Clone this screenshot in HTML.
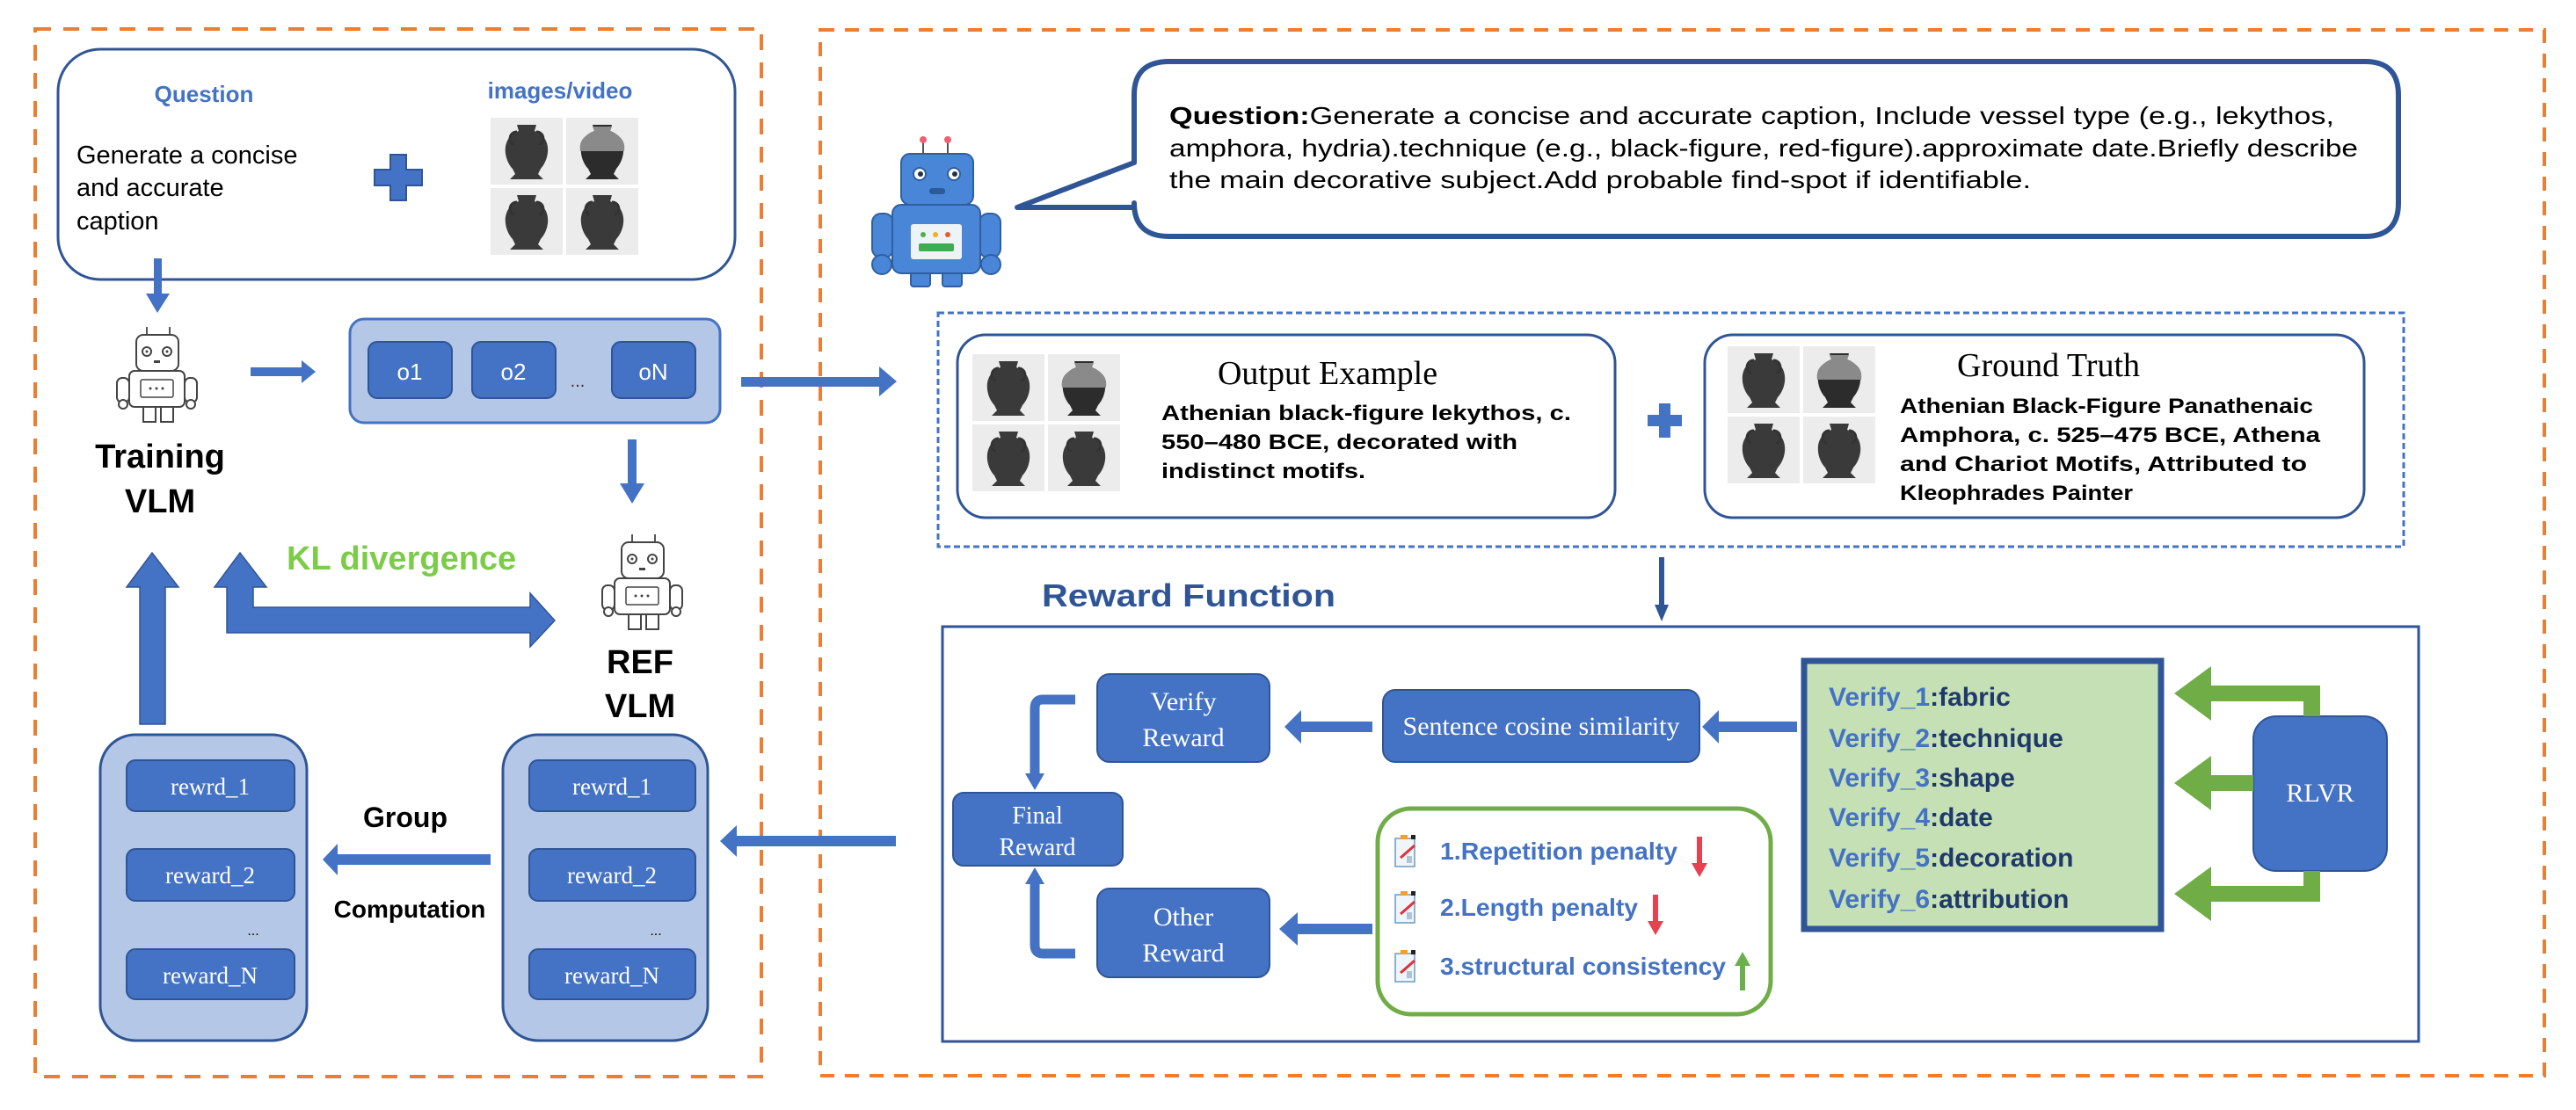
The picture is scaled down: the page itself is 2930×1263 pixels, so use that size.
<!DOCTYPE html>
<html><head><meta charset="utf-8"><style>
html,body{margin:0;padding:0;background:#fff;}
svg{display:block;}
text{font-family:"Liberation Sans",sans-serif;}
.serif{font-family:"Liberation Serif",serif;}
</style></head><body>
<svg width="2930" height="1263" viewBox="0 0 2930 1263" xmlns="http://www.w3.org/2000/svg">
<defs>
<g id="robot">
 <line x1="47" y1="12" x2="47" y2="21" stroke="#555" stroke-width="2"/>
 <line x1="73" y1="12" x2="73" y2="21" stroke="#555" stroke-width="2"/>
 <rect x="35" y="21" width="48" height="41" rx="8" fill="#fff" stroke="#444" stroke-width="2"/>
 <circle cx="47" cy="40" r="5" fill="none" stroke="#444" stroke-width="2"/><circle cx="47" cy="40" r="1.5" fill="#444"/>
 <circle cx="70" cy="40" r="5" fill="none" stroke="#444" stroke-width="2"/><circle cx="70" cy="40" r="1.5" fill="#444"/>
 <rect x="55" y="50" width="7" height="3" fill="#444"/>
 <rect x="13" y="70" width="14" height="28" rx="6" fill="#fff" stroke="#444" stroke-width="2"/>
 <rect x="90" y="70" width="14" height="28" rx="6" fill="#fff" stroke="#444" stroke-width="2"/>
 <circle cx="20" cy="100" r="5" fill="#fff" stroke="#444" stroke-width="2"/>
 <circle cx="97" cy="100" r="5" fill="#fff" stroke="#444" stroke-width="2"/>
 <rect x="43" y="103" width="14" height="17" fill="#fff" stroke="#444" stroke-width="2"/>
 <rect x="63" y="103" width="14" height="17" fill="#fff" stroke="#444" stroke-width="2"/>
 <rect x="27" y="62" width="63" height="41" rx="6" fill="#fff" stroke="#444" stroke-width="2"/>
 <rect x="40" y="72" width="37" height="20" rx="2" fill="#fff" stroke="#444" stroke-width="1.5"/>
 <circle cx="51" cy="82" r="1.5" fill="#444"/><circle cx="58" cy="82" r="1.5" fill="#444"/><circle cx="65" cy="82" r="1.5" fill="#444"/>
</g>
<g id="vase">
 <rect x="0" y="0" width="82" height="76" fill="#ececec"/>
 <path d="M30,8 L52,8 L50,15 C70,22 68,46 57,58 L54,64 L60,70 L22,70 L28,64 L25,58 C14,46 12,22 32,15 Z" fill="#3a3a3a"/>
 <path d="M30,16 C20,16 20,30 27,30 M52,16 C62,16 62,30 55,30" fill="none" stroke="#333" stroke-width="3"/>
</g>
<g id="vase2">
 <rect x="0" y="0" width="82" height="76" fill="#ececec"/>
 <path d="M30,8 L52,8 L50,15 C70,22 68,46 57,58 L54,64 L60,70 L22,70 L28,64 L25,58 C14,46 12,22 32,15 Z" fill="#2c2c2c"/>
 <path d="M30,10 L52,10 L50,15 C66,22 67,30 66,38 L16,38 C15,30 16,22 32,15 Z" fill="#8a8a8a"/>
</g>
<g id="vases">
 <use href="#vase" x="0" y="0"/><use href="#vase2" x="86" y="0"/>
 <use href="#vase" x="0" y="80"/><use href="#vase" x="86" y="80"/>
</g>
<g id="note">
 <rect x="0" y="6" width="22" height="32" fill="#eef5fb" stroke="#6b9ac4" stroke-width="1.5"/>
 <rect x="6" y="2" width="8" height="5" fill="#f0a030"/>
 <rect x="18" y="2" width="5" height="5" fill="#222"/>
 <rect x="13" y="26" width="6" height="8" fill="#b0c4d8"/>
 <line x1="6" y1="28" x2="22" y2="14" stroke="#e0303a" stroke-width="3"/>
</g>
</defs>

<rect x="40" y="33" width="826" height="1192" fill="none" stroke="#ed7d31" stroke-width="4" stroke-dasharray="18,14"/>
<rect x="933" y="34" width="1961" height="1190" fill="none" stroke="#ed7d31" stroke-width="4" stroke-dasharray="16,12"/>

<rect x="66" y="56" width="770" height="262" rx="48" fill="#fff" stroke="#2f5597" stroke-width="3"/>
<text x="232" y="116" text-anchor="middle" font-size="26" font-weight="bold" fill="#4472c4">Question</text>
<text x="637" y="112" text-anchor="middle" font-size="26" font-weight="bold" fill="#4472c4">images/video</text>
<text x="87" y="186" font-size="29" fill="#000">Generate a concise</text>
<text x="87" y="223" font-size="29" fill="#000">and accurate</text>
<text x="87" y="261" font-size="29" fill="#000">caption</text>
<path d="M444,176 h18 v17 h18 v18 h-18 v17 h-18 v-17 h-18 v-18 h18 z" fill="#4472c4" stroke="#2f5597" stroke-width="2"/>
<g transform="translate(558,134)"><use href="#vases"/></g>

<rect x="175" y="294" width="9" height="42" fill="#4472c4"/>
<polygon points="166,334 193,334 179,356" fill="#4472c4"/>

<g transform="translate(120,360)"><use href="#robot"/></g>
<text x="182" y="532" text-anchor="middle" font-size="38" font-weight="bold">Training</text>
<text x="182" y="583" text-anchor="middle" font-size="38" font-weight="bold">VLM</text>

<rect x="285" y="418" width="60" height="10" fill="#4472c4"/>
<polygon points="343,410 359,423 343,436" fill="#4472c4"/>

<rect x="398" y="363" width="421" height="118" rx="16" fill="#b4c7e7" stroke="#4472c4" stroke-width="3"/>
<rect x="419" y="389" width="95" height="64" rx="10" fill="#4472c4" stroke="#2f5597" stroke-width="2"/>
<rect x="537" y="389" width="95" height="64" rx="10" fill="#4472c4" stroke="#2f5597" stroke-width="2"/>
<rect x="696" y="389" width="95" height="64" rx="10" fill="#4472c4" stroke="#2f5597" stroke-width="2"/>
<text x="466" y="432" text-anchor="middle" font-size="26" fill="#fff">o1</text>
<text x="584" y="432" text-anchor="middle" font-size="26" fill="#fff">o2</text>
<text x="743" y="432" text-anchor="middle" font-size="26" fill="#fff">oN</text>
<text x="657" y="440" text-anchor="middle" font-size="20" fill="#333">...</text>

<rect x="843" y="429" width="160" height="11" fill="#4472c4"/>
<polygon points="1000,417 1020,434 1000,451" fill="#4472c4"/>

<rect x="714" y="500" width="10" height="52" fill="#4472c4"/>
<polygon points="705,550 733,550 719,573" fill="#4472c4"/>

<g transform="translate(672,596)"><use href="#robot"/></g>
<text x="728" y="766" text-anchor="middle" font-size="38" font-weight="bold">REF</text>
<text x="728" y="816" text-anchor="middle" font-size="38" font-weight="bold">VLM</text>

<text x="326" y="648" font-size="38" font-weight="bold" fill="#7ccc4a">KL divergence</text>

<polygon points="159,824 188,824 188,668 203,668 173,629 144,668 159,668" fill="#4472c4" stroke="#2f5597" stroke-width="1.5"/>
<polygon points="258,720 258,668 244,668 273,629 303,668 288,668 288,691 603,691 603,675 631,706 603,736 603,720" fill="#4472c4" stroke="#2f5597" stroke-width="1.5"/>

<rect x="114" y="836" width="235" height="348" rx="40" fill="#b4c7e7" stroke="#2f5597" stroke-width="3"/>
<rect x="144" y="865" width="191" height="58" rx="10" fill="#4472c4" stroke="#2f5597" stroke-width="2"/>
<rect x="144" y="966" width="191" height="59" rx="10" fill="#4472c4" stroke="#2f5597" stroke-width="2"/>
<rect x="144" y="1080" width="191" height="57" rx="10" fill="#4472c4" stroke="#2f5597" stroke-width="2"/>
<text x="239" y="904" text-anchor="middle" class="serif" font-size="27" fill="#fff">rewrd_1</text>
<text x="239" y="1005" text-anchor="middle" class="serif" font-size="27" fill="#fff">reward_2</text>
<text x="239" y="1119" text-anchor="middle" class="serif" font-size="27" fill="#fff">reward_N</text>
<text x="288" y="1064" text-anchor="middle" font-size="16">...</text>

<rect x="572" y="836" width="233" height="348" rx="40" fill="#b4c7e7" stroke="#2f5597" stroke-width="3"/>
<rect x="602" y="865" width="189" height="58" rx="10" fill="#4472c4" stroke="#2f5597" stroke-width="2"/>
<rect x="602" y="966" width="189" height="59" rx="10" fill="#4472c4" stroke="#2f5597" stroke-width="2"/>
<rect x="602" y="1080" width="189" height="57" rx="10" fill="#4472c4" stroke="#2f5597" stroke-width="2"/>
<text x="696" y="904" text-anchor="middle" class="serif" font-size="27" fill="#fff">rewrd_1</text>
<text x="696" y="1005" text-anchor="middle" class="serif" font-size="27" fill="#fff">reward_2</text>
<text x="696" y="1119" text-anchor="middle" class="serif" font-size="27" fill="#fff">reward_N</text>
<text x="746" y="1064" text-anchor="middle" font-size="16">...</text>

<text x="461" y="941" text-anchor="middle" font-size="32" font-weight="bold">Group</text>
<text x="466" y="1044" text-anchor="middle" font-size="28" font-weight="bold">Computation</text>
<rect x="382" y="972" width="176" height="12" fill="#4472c4"/>
<polygon points="384,960 367,978 384,996" fill="#4472c4"/>

<rect x="836" y="951" width="183" height="12" fill="#4472c4"/>
<polygon points="838,939 819,957 838,975" fill="#4472c4"/>

<g>
 <line x1="1050" y1="160" x2="1050" y2="175" stroke="#555" stroke-width="2"/>
 <line x1="1078" y1="160" x2="1078" y2="175" stroke="#555" stroke-width="2"/>
 <circle cx="1050" cy="159" r="4" fill="#f06070"/><circle cx="1078" cy="159" r="4" fill="#f06070"/>
 <rect x="1025" y="175" width="82" height="58" rx="10" fill="#4a86d8" stroke="#2f5f9f" stroke-width="2"/>
 <circle cx="1046" cy="198" r="7" fill="#fff" stroke="#2f5f9f" stroke-width="2"/><circle cx="1047" cy="198" r="3" fill="#234"/>
 <circle cx="1085" cy="198" r="7" fill="#fff" stroke="#2f5f9f" stroke-width="2"/><circle cx="1086" cy="198" r="3" fill="#234"/>
 <rect x="1057" y="214" width="18" height="7" rx="3" fill="#2a5a9a"/>
 <rect x="992" y="243" width="24" height="50" rx="10" fill="#4a86d8" stroke="#2f5f9f" stroke-width="2"/>
 <rect x="1114" y="243" width="24" height="50" rx="10" fill="#4a86d8" stroke="#2f5f9f" stroke-width="2"/>
 <circle cx="1003" cy="301" r="11" fill="#4a86d8" stroke="#2f5f9f" stroke-width="2"/>
 <circle cx="1127" cy="301" r="11" fill="#4a86d8" stroke="#2f5f9f" stroke-width="2"/>
 <rect x="1036" y="308" width="22" height="18" rx="3" fill="#4a86d8" stroke="#2f5f9f" stroke-width="2"/>
 <rect x="1072" y="308" width="22" height="18" rx="3" fill="#4a86d8" stroke="#2f5f9f" stroke-width="2"/>
 <rect x="1015" y="233" width="100" height="78" rx="10" fill="#4a86d8" stroke="#2f5f9f" stroke-width="2"/>
 <rect x="1036" y="255" width="58" height="40" rx="3" fill="#eef3f8"/>
 <circle cx="1050" cy="267" r="3" fill="#4caf50"/><circle cx="1064" cy="267" r="3" fill="#f0b020"/><circle cx="1078" cy="267" r="3" fill="#e06030"/>
 <rect x="1045" y="277" width="40" height="9" rx="2" fill="#3cae50"/>
</g>

<path d="M1330,70 H2690 Q2728,70 2728,108 V231 Q2728,269 2690,269 H1330 Q1290,269 1290,231 V236 L1157,236 L1290,185 V108 Q1290,70 1330,70 Z" fill="#fff" stroke="#2f5597" stroke-width="6" stroke-linejoin="round"/>
<text x="1330" y="141" font-size="28" textLength="1325" lengthAdjust="spacingAndGlyphs"><tspan font-weight="bold">Question:</tspan>Generate a concise and accurate caption,  Include vessel type (e.g., lekythos,</text>
<text x="1330" y="178" font-size="28" textLength="1352" lengthAdjust="spacingAndGlyphs">amphora, hydria).technique (e.g., black-figure, red-figure).approximate date.Briefly describe</text>
<text x="1330" y="214" font-size="28" textLength="980" lengthAdjust="spacingAndGlyphs">the main decorative subject.Add probable find-spot if identifiable.</text>

<rect x="1067" y="356" width="1667" height="266" fill="none" stroke="#4472c4" stroke-width="3" stroke-dasharray="7,4"/>
<rect x="1089" y="381" width="748" height="208" rx="32" fill="#fff" stroke="#2f5597" stroke-width="3"/>
<g transform="translate(1106,403)"><use href="#vases"/></g>
<text x="1510" y="437" text-anchor="middle" class="serif" font-size="38">Output Example</text>
<text x="1321" y="478" font-size="24" font-weight="bold" textLength="466" lengthAdjust="spacingAndGlyphs">Athenian black-figure lekythos, c.</text>
<text x="1321" y="511" font-size="24" font-weight="bold" textLength="405" lengthAdjust="spacingAndGlyphs">550–480 BCE, decorated with</text>
<text x="1321" y="544" font-size="24" font-weight="bold" textLength="232" lengthAdjust="spacingAndGlyphs">indistinct motifs.</text>

<path d="M1887,459 h13 v13 h13 v13 h-13 v13 h-13 v-13 h-13 v-13 h13 z" fill="#4472c4"/>

<rect x="1939" y="381" width="750" height="208" rx="32" fill="#fff" stroke="#2f5597" stroke-width="3"/>
<g transform="translate(1965,394)"><use href="#vases"/></g>
<text x="2330" y="428" text-anchor="middle" class="serif" font-size="38">Ground Truth</text>
<text x="2161" y="470" font-size="24" font-weight="bold" textLength="470" lengthAdjust="spacingAndGlyphs">Athenian Black-Figure Panathenaic</text>
<text x="2161" y="503" font-size="24" font-weight="bold" textLength="478" lengthAdjust="spacingAndGlyphs">Amphora, c. 525–475 BCE, Athena</text>
<text x="2161" y="536" font-size="24" font-weight="bold" textLength="463" lengthAdjust="spacingAndGlyphs">and Chariot Motifs, Attributed to</text>
<text x="2161" y="569" font-size="24" font-weight="bold" textLength="265" lengthAdjust="spacingAndGlyphs">Kleophrades Painter</text>

<rect x="1887" y="634" width="6" height="56" fill="#2f5597"/>
<polygon points="1882,688 1898,688 1890,707" fill="#2f5597"/>

<text x="1185" y="690" font-size="36" font-weight="bold" fill="#2f5597" textLength="334" lengthAdjust="spacingAndGlyphs">Reward Function</text>

<rect x="1072" y="713" width="1679" height="472" fill="#fff" stroke="#2f5597" stroke-width="3"/>

<rect x="1248" y="767" width="196" height="100" rx="14" fill="#4472c4" stroke="#2f5597" stroke-width="2"/>
<text x="1346" y="808" text-anchor="middle" class="serif" font-size="30" fill="#fff">Verify</text>
<text x="1346" y="849" text-anchor="middle" class="serif" font-size="30" fill="#fff">Reward</text>
<rect x="1573" y="785" width="360" height="82" rx="14" fill="#4472c4" stroke="#2f5597" stroke-width="2"/>
<text x="1753" y="836" text-anchor="middle" class="serif" font-size="30" fill="#fff">Sentence cosine similarity</text>
<rect x="1084" y="902" width="193" height="83" rx="12" fill="#4472c4" stroke="#2f5597" stroke-width="2"/>
<text x="1180" y="937" text-anchor="middle" class="serif" font-size="28" fill="#fff">Final</text>
<text x="1180" y="973" text-anchor="middle" class="serif" font-size="28" fill="#fff">Reward</text>
<rect x="1248" y="1011" width="196" height="101" rx="14" fill="#4472c4" stroke="#2f5597" stroke-width="2"/>
<text x="1346" y="1053" text-anchor="middle" class="serif" font-size="30" fill="#fff">Other</text>
<text x="1346" y="1094" text-anchor="middle" class="serif" font-size="30" fill="#fff">Reward</text>

<rect x="1478" y="821" width="83" height="12" fill="#4472c4"/>
<polygon points="1480,808 1461,827 1480,846" fill="#4472c4"/>
<rect x="1953" y="821" width="91" height="12" fill="#4472c4"/>
<polygon points="1955,808 1936,827 1955,846" fill="#4472c4"/>
<rect x="1474" y="1051" width="87" height="12" fill="#4472c4"/>
<polygon points="1476,1038 1455,1057 1476,1076" fill="#4472c4"/>
<path d="M1223,796 H1186 Q1177,796 1177,806 V882" fill="none" stroke="#4472c4" stroke-width="11"/>
<polygon points="1166,880 1188,880 1177,899" fill="#4472c4"/>
<path d="M1223,1085 H1186 Q1177,1085 1177,1075 V1004" fill="none" stroke="#4472c4" stroke-width="11"/>
<polygon points="1166,1006 1188,1006 1177,987" fill="#4472c4"/>

<rect x="1567" y="920" width="447" height="234" rx="38" fill="#fff" stroke="#70ad47" stroke-width="5"/>
<g transform="translate(1587,948)"><use href="#note"/></g>
<g transform="translate(1587,1012)"><use href="#note"/></g>
<g transform="translate(1587,1079)"><use href="#note"/></g>
<text x="1638" y="978" font-size="28" font-weight="bold" fill="#4472c4" textLength="270" lengthAdjust="spacingAndGlyphs">1.Repetition penalty</text>
<text x="1638" y="1042" font-size="28" font-weight="bold" fill="#4472c4" textLength="225" lengthAdjust="spacingAndGlyphs">2.Length penalty</text>
<text x="1638" y="1109" font-size="28" font-weight="bold" fill="#4472c4" textLength="325" lengthAdjust="spacingAndGlyphs">3.structural consistency</text>
<rect x="1930" y="952" width="6" height="32" fill="#e8404f"/><polygon points="1924,982 1942,982 1933,998" fill="#e8404f"/>
<rect x="1880" y="1018" width="6" height="32" fill="#e8404f"/><polygon points="1874,1048 1892,1048 1883,1064" fill="#e8404f"/>
<rect x="1979" y="1097" width="6" height="30" fill="#6ab04c"/><polygon points="1973,1099 1991,1099 1982,1083" fill="#6ab04c"/>

<rect x="2052" y="752" width="406" height="305" fill="#c5e0b4" stroke="#2f5597" stroke-width="7"/>
<g font-size="30" font-weight="bold">
<text x="2080" y="803"><tspan fill="#4472c4">Verify_1</tspan><tspan fill="#1f3a6a">:fabric</tspan></text>
<text x="2080" y="850"><tspan fill="#4472c4">Verify_2</tspan><tspan fill="#1f3a6a">:technique</tspan></text>
<text x="2080" y="895"><tspan fill="#4472c4">Verify_3</tspan><tspan fill="#1f3a6a">:shape</tspan></text>
<text x="2080" y="940"><tspan fill="#4472c4">Verify_4</tspan><tspan fill="#1f3a6a">:date</tspan></text>
<text x="2080" y="986"><tspan fill="#4472c4">Verify_5</tspan><tspan fill="#1f3a6a">:decoration</tspan></text>
<text x="2080" y="1033"><tspan fill="#4472c4">Verify_6</tspan><tspan fill="#1f3a6a">:attribution</tspan></text>
</g>

<rect x="2563" y="815" width="152" height="176" rx="26" fill="#4472c4" stroke="#2f5597" stroke-width="2"/>
<text x="2639" y="912" text-anchor="middle" class="serif" font-size="30" fill="#fff">RLVR</text>

<polygon points="2639,815 2620,815 2620,798 2515,798 2515,820 2473,789 2515,758 2515,780 2639,780" fill="#70ad47"/>
<polygon points="2563,882 2515,882 2515,860 2473,891 2515,922 2515,900 2563,900" fill="#70ad47"/>
<polygon points="2639,991 2620,991 2620,1008 2515,1008 2515,986 2473,1017 2515,1048 2515,1026 2639,1026" fill="#70ad47"/>
</svg>
</body></html>
